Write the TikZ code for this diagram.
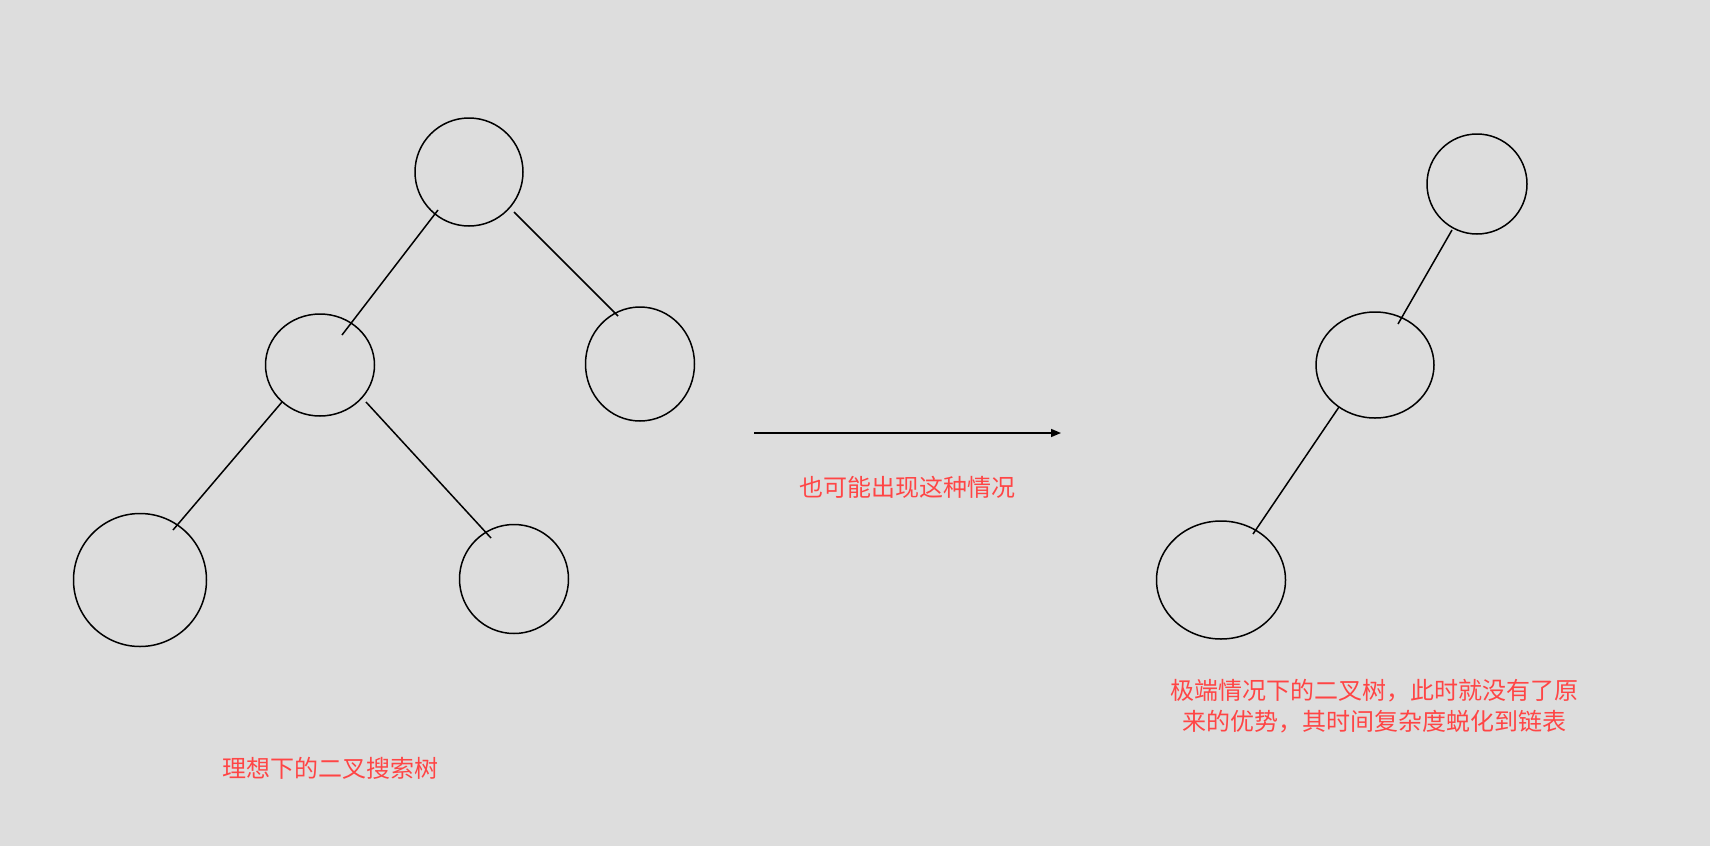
\documentclass[tikz,border=0pt]{standalone}
\usepackage{fontspec}
\newfontfamily\cjk{Noto Sans CJK SC}
\usetikzlibrary{shapes.geometric,arrows.meta}
\definecolor{bg}{HTML}{DDDDDD}
\definecolor{txtred}{HTML}{FF4545}
\begin{document}
\begin{tikzpicture}[x=1pt,y=-1pt,
  treenode/.style={draw=black,line width=1.5pt,ellipse,inner sep=0pt},
  edge/.style={draw=black,line width=1.5pt},
  caption/.style={text=txtred,font=\cjk\fontsize{24}{30.5}\selectfont,align=center,inner sep=0pt}]
\fill[bg] (0,0) rectangle (1710,846);
\useasboundingbox (0,0) rectangle (1710,846);
% left tree
\node[treenode,minimum width=108,minimum height=108] (r) at (469,172) {};
\node[treenode,minimum width=109,minimum height=102] (l) at (320,365) {};
\node[treenode,minimum width=109,minimum height=114] (rr) at (640,364) {};
\node[treenode,minimum width=133,minimum height=133] (ll) at (140,580) {};
\node[treenode,minimum width=109,minimum height=109] (lr) at (514,579) {};
\coordinate (e1a) at (438,210); \coordinate (e1b) at (342,335);
\coordinate (e2a) at (514,212); \coordinate (e2b) at (618,316);
\coordinate (e3a) at (282,402); \coordinate (e3b) at (173,530);
\coordinate (e4a) at (366,402); \coordinate (e4b) at (491,538);
\draw[edge] (e1a) -- (e1b);
\draw[edge] (e2a) -- (e2b);
\draw[edge] (e3a) -- (e3b);
\draw[edge] (e4a) -- (e4b);
% arrow
\coordinate (as) at (754,433);
\coordinate (ae) at (1061,433);
\draw[line width=1.5pt,-{Triangle[length=10pt,width=8pt]}] (as) -- (ae);
\node[caption] (t1) at (907,487) {也可能出现这种情况};
% right tree
\node[treenode,minimum width=100,minimum height=100] (a) at (1477,184) {};
\node[treenode,minimum width=118,minimum height=106] (b) at (1375,365) {};
\node[treenode,minimum width=129,minimum height=118] (c) at (1221,580) {};
\coordinate (f1a) at (1452,230); \coordinate (f1b) at (1398,324);
\coordinate (f2a) at (1339,407); \coordinate (f2b) at (1253,534);
\draw[edge] (f1a) -- (f1b);
\draw[edge] (f2a) -- (f2b);
\node[caption] (t2) at (1374,706) {极端情况下的二叉树，此时就没有了原\\来的优势，其时间复杂度蜕化到链表};
\node[caption] (t3) at (330,768) {理想下的二叉搜索树};
\end{tikzpicture}
\end{document}
